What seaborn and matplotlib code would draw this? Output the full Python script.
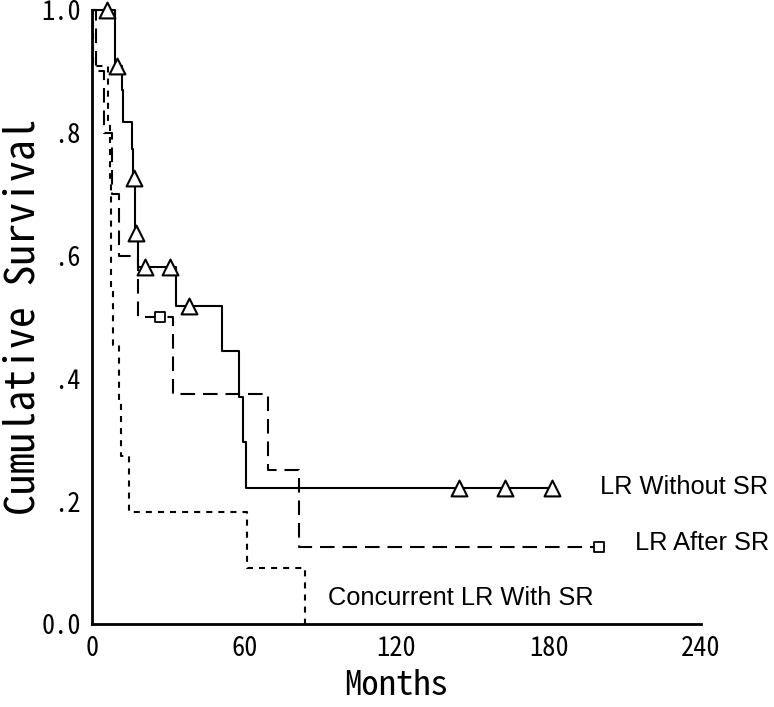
import matplotlib
matplotlib.use("Agg")
import matplotlib.pyplot as plt
import seaborn as sns

# LR Without SR (solid, triangles = censored)
without_t = [0, 9.1, 11.7, 12.3, 15.6, 16.0, 16.9, 18.2, 33.1, 51.4, 57.9, 59.6, 60.6, 181.2]
without_s = [1.0, 0.909, 0.87, 0.818, 0.773, 0.727, 0.636, 0.581, 0.518, 0.444, 0.370, 0.296, 0.222, 0.222]
without_cens_t = [5.8, 10.0, 16.4, 17.3, 20.9, 30.7, 38.3, 144.6, 162.6, 181.2]
without_cens_s = [1.0, 0.909, 0.727, 0.636, 0.581, 0.581, 0.518, 0.222, 0.222, 0.222]

# LR After SR (dashed, squares = censored)
after_t = [0, 1.6, 4.7, 8.0, 10.8, 18.2, 31.8, 69.4, 81.6, 199.7]
after_s = [1.0, 0.9, 0.8, 0.7, 0.6, 0.5, 0.375, 0.25, 0.125, 0.125]
after_cens_t = [26.8, 199.7]
after_cens_s = [0.5, 0.125]

# Concurrent LR With SR (dotted)
concur_t = [0, 0.5, 6.3, 7.0, 7.6, 8.4, 10.8, 11.3, 14.7, 60.9, 83.9]
concur_s = [1.0, 0.909, 0.818, 0.727, 0.545, 0.455, 0.364, 0.273, 0.182, 0.091, 0.0]

x_ticks = [0, 60, 120, 180, 240]
y_ticks = [0.0, 0.2, 0.4, 0.6, 0.8, 1.0]
y_labels = ["0.0", ".2", ".4", ".6", ".8", "1.0"]

sns.set_style("white")
plt.rcParams["font.family"] = ["Noto Sans Mono CJK JP", "DejaVu Sans"]
plt.rcParams["text.color"] = "black"
plt.rcParams["axes.labelcolor"] = "black"
plt.rcParams["xtick.color"] = "black"
plt.rcParams["ytick.color"] = "black"

fig = plt.figure(figsize=(7.74, 7.07), dpi=100)
ax = fig.add_axes([0.1189, 0.1174, 0.7868, 0.8685])

lw = 1.5
sns.lineplot(x=without_t, y=without_s, drawstyle="steps-post", estimator=None,
             color="black", linewidth=lw, ax=ax, clip_on=False)
sns.lineplot(x=after_t, y=after_s, drawstyle="steps-post", estimator=None,
             color="black", linewidth=lw, ax=ax, clip_on=False)
sns.lineplot(x=concur_t, y=concur_s, drawstyle="steps-post", estimator=None,
             color="black", linewidth=lw, ax=ax, clip_on=False)
ax.lines[1].set_dashes((7, 3.8))
ax.lines[2].set_dashes((2.9, 2.9))

sns.scatterplot(x=without_cens_t, y=without_cens_s, marker="^", s=130,
                facecolor="white", edgecolor="black", linewidth=1.5,
                ax=ax, zorder=5, clip_on=False)
sns.scatterplot(x=after_cens_t, y=after_cens_s, marker="s", s=45,
                facecolor="white", edgecolor="black", linewidth=1.3,
                ax=ax, zorder=5, clip_on=False)

ax.set_xlim(0, 240)
ax.set_ylim(0, 1.0)
ax.set_xticks(x_ticks)
ax.set_yticks(y_ticks)
ax.set_yticklabels(y_labels)
ax.tick_params(direction="out", length=4, width=4, labelsize=19, pad=4)
sns.despine(ax=ax)
for side in ["left", "bottom"]:
    ax.spines[side].set_linewidth(2)
    ax.spines[side].set_color("black")

ax.set_xlabel("Months", fontsize=25, labelpad=5)
ax.set_ylabel("Cumulative Survival", fontsize=30)
ax.yaxis.set_label_coords(-0.08, 0.5)

lab_font = ["Liberation Sans", "DejaVu Sans"]
ax.annotate("LR Without SR", xy=(600 / 774, 1 - 487 / 707), xycoords="figure fraction",
            fontsize=18.3, family=lab_font, va="center", ha="left")
ax.annotate("LR After SR", xy=(635 / 774, 1 - 543 / 707), xycoords="figure fraction",
            fontsize=18.3, family=lab_font, va="center", ha="left")
ax.annotate("Concurrent LR With SR", xy=(328 / 774, 1 - 598 / 707), xycoords="figure fraction",
            fontsize=18.3, family=lab_font, va="center", ha="left")

fig.savefig("out.png", dpi=100)
